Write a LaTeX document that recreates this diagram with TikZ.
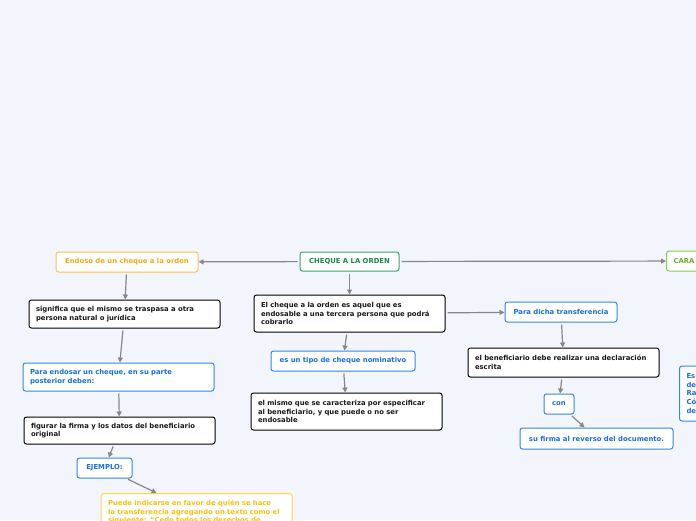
\documentclass[tikz,border=0pt]{standalone}
\usepackage{fontspec}
\setmainfont{DejaVu Sans}
\usetikzlibrary{arrows.meta}
\definecolor{bg}{RGB}{243,245,253}
\definecolor{edgegray}{RGB}{135,135,135}
\definecolor{mainbd}{RGB}{60,165,100}
\definecolor{maintx}{RGB}{30,135,75}
\definecolor{orabd}{RGB}{250,195,70}
\definecolor{oratx}{RGB}{245,168,20}
\definecolor{yelbd}{RGB}{255,215,70}
\definecolor{yeltx}{RGB}{245,195,15}
\definecolor{blubd}{RGB}{50,135,230}
\definecolor{blutx}{RGB}{25,110,220}
\definecolor{lgrbd}{RGB}{140,200,80}
\definecolor{lgrtx}{RGB}{115,180,45}
\tikzset{
  box/.style={draw, fill=white, rounded corners=2.5pt, line width=1pt, inner xsep=7pt, inner ysep=2pt,
    font=\fontsize{6.85}{8.7}\selectfont\bfseries},
  blackbox/.style={box, draw=black, text=black!90, align=left},
  bluebox/.style={box, draw=blubd, text=blutx},
  conn/.style={draw=edgegray, line width=1.2pt, -{Triangle[width=5pt,length=5pt]}, shorten <=2pt}
}
\begin{document}
\begin{tikzpicture}[x=1pt,y=-1pt]
\useasboundingbox (0,0) rectangle (696,520);
\clip (0,0) rectangle (696,520);
\fill[bg] (0,0) rectangle (696,520);

\node[box, draw=mainbd, text=maintx, minimum width=99pt, minimum height=19pt] (cheque) at (349.5,261.5) {CHEQUE A LA ORDEN};
\node[box, draw=orabd, text=oratx, minimum width=142pt, minimum height=20pt] (endoso) at (127,262) {Endoso de un cheque a la orden};
\node[box, draw=lgrbd, text=lgrtx, anchor=west, minimum width=100pt, minimum height=20pt, align=left, text width=86pt] (cara) at (666,261) {CARA};

\node[blackbox, text width=177pt, minimum height=28pt] (signif) at (124.5,314) {significa que el mismo se traspasa a otra\\persona natural o jurídica};
\node[bluebox, align=left, text width=177pt, minimum height=28pt] (paraend) at (118.5,377) {Para endosar un cheque, en su parte\\posterior deben:};
\node[blackbox, text width=177pt, minimum height=27pt] (figurar) at (119.5,430.5) {figurar la firma y los datos del beneficiario\\original};
\node[bluebox, minimum width=55pt, minimum height=20pt, inner xsep=2pt] (ejemplo) at (104.5,468) {EJEMPLO:};
\node[box, draw=yelbd, text=yeltx, align=left, text width=177pt, anchor=north, inner ysep=6.5pt] (puede) at (196.5,493) {Puede indicarse en favor de quién se hace\\la transferencia agregando un texto como el\\siguiente: “Cedo todos los derechos de};

\node[blackbox, text width=177pt, minimum height=37pt] (elcheque) at (349.5,313.5) {El cheque a la orden es aquel que es\\endosable a una tercera persona que podrá\\cobrarlo};
\node[bluebox, minimum width=144pt, minimum height=20pt, inner xsep=2pt] (tipo) at (343,361) {es un tipo de cheque nominativo};
\node[blackbox, text width=177pt, minimum height=37pt] (mismo) at (346.5,411.5) {el mismo que se caracteriza por especificar\\al beneficiario, y que puede o no ser\\endosable};

\node[bluebox, minimum width=112pt, minimum height=20pt, inner xsep=2pt] (paradicha) at (561,312) {Para dicha transferencia};
\node[blackbox, text width=177pt, minimum height=29pt] (benef) at (563.5,362.5) {el beneficiario debe realizar una declaración\\escrita};
\node[bluebox, minimum width=30pt, minimum height=20pt, inner xsep=2pt] (con) at (559,404) {con};
\node[bluebox, minimum width=153pt, minimum height=21pt, inner xsep=2pt] (firma) at (596.5,438.5) {su firma al reverso del documento.};
\node[bluebox, anchor=west, align=left, text width=60pt, minimum height=55pt] (right) at (679,393.5) {Es\\de\\Ra\\Có\\de};

\draw[conn] (cheque) -- (endoso);
\draw[conn] (cheque) -- (cara);
\draw[conn] (cheque) -- (elcheque);
\draw[conn] (elcheque) -- (paradicha);
\draw[conn] (elcheque) -- (tipo);
\draw[conn] (tipo) -- (mismo);
\draw[conn] (endoso) -- (signif);
\draw[conn] (signif) -- (paraend);
\draw[conn] (paraend) -- (figurar);
\draw[conn] (figurar) -- (ejemplo);
\draw[conn] (ejemplo) -- (puede);
\draw[conn] (paradicha) -- (benef);
\draw[conn] (benef) -- (con);
\draw[conn] (con) -- (firma);
\end{tikzpicture}
\end{document}
